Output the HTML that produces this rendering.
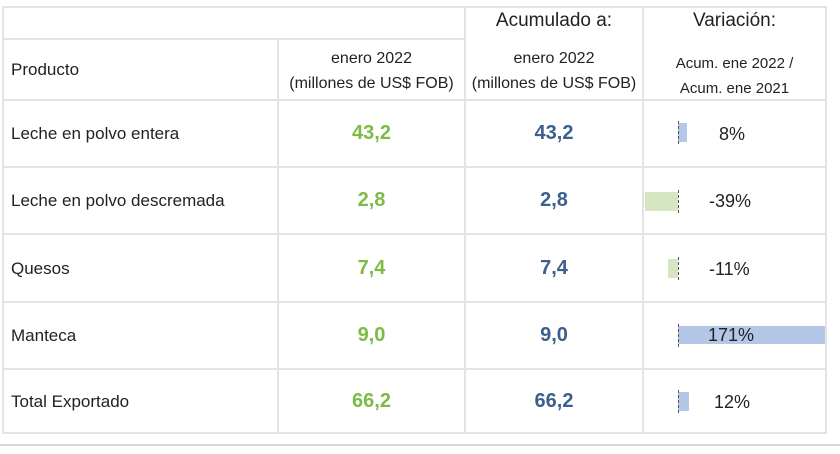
<!DOCTYPE html>
<html><head><meta charset="utf-8"><style>
body{margin:0;width:840px;height:454px;background:#fff;font-family:"Liberation Sans",sans-serif;color:#222;position:relative;overflow:hidden}
.h{position:absolute;height:2px;background:#e3e3e3}
.v{position:absolute;width:2px;background:#e3e3e3}
.t{position:absolute;white-space:nowrap}
.c{text-align:center}
.g{color:#7dbb45;font-weight:bold;font-size:20px}
.b{color:#3c5f8e;font-weight:bold;font-size:20px}
.bar{position:absolute}
.ax{position:absolute;width:0;border-left:1px dashed #555}
</style></head><body>
<div class="h" style="left:2px;width:825px;top:6px"></div>
<div class="h" style="left:2px;width:463px;top:38px"></div>
<div class="h" style="left:2px;width:825px;top:99px"></div>
<div class="h" style="left:2px;width:825px;top:166px"></div>
<div class="h" style="left:2px;width:825px;top:233px"></div>
<div class="h" style="left:2px;width:825px;top:301px"></div>
<div class="h" style="left:2px;width:825px;top:368px"></div>
<div class="h" style="left:2px;width:825px;top:432px"></div>
<div class="h" style="left:0;width:840px;top:444px;background:#d8d8d8"></div>
<div class="v" style="left:2px;top:6px;height:428px"></div>
<div class="v" style="left:277px;top:38px;height:396px"></div>
<div class="v" style="left:464px;top:6px;height:428px"></div>
<div class="v" style="left:642px;top:6px;height:428px"></div>
<div class="v" style="left:825px;top:6px;height:428px"></div>

<div class="t c" style="left:465px;width:178px;top:10px;font-size:19px">Acumulado a:</div>
<div class="t c" style="left:643px;width:183px;top:10px;font-size:19px">Variación:</div>
<div class="t" style="left:11px;top:60px;font-size:17px">Producto</div>
<div class="t c" style="left:278px;width:187px;top:46px;font-size:16px;line-height:25px">enero 2022<br>(millones de US$ FOB)</div>
<div class="t c" style="left:465px;width:178px;top:46px;font-size:16px;line-height:25px">enero 2022<br>(millones de US$ FOB)</div>
<div class="t c" style="left:643px;width:183px;top:51px;font-size:15px;line-height:25px">Acum. ene 2022 /<br>Acum. ene 2021</div>

<div class="t" style="left:11px;top:124px;font-size:17px">Leche en polvo entera</div>
<div class="t" style="left:11px;top:191px;font-size:17px">Leche en polvo descremada</div>
<div class="t" style="left:11px;top:259px;font-size:17px">Quesos</div>
<div class="t" style="left:11px;top:326px;font-size:17px">Manteca</div>
<div class="t" style="left:11px;top:392px;font-size:17px">Total Exportado</div>

<div class="t c g" style="left:278px;width:187px;top:122px">43,2</div>
<div class="t c g" style="left:278px;width:187px;top:189px">2,8</div>
<div class="t c g" style="left:278px;width:187px;top:257px">7,4</div>
<div class="t c g" style="left:278px;width:187px;top:324px">9,0</div>
<div class="t c g" style="left:278px;width:187px;top:390px">66,2</div>
<div class="t c b" style="left:465px;width:178px;top:122px">43,2</div>
<div class="t c b" style="left:465px;width:178px;top:189px">2,8</div>
<div class="t c b" style="left:465px;width:178px;top:257px">7,4</div>
<div class="t c b" style="left:465px;width:178px;top:324px">9,0</div>
<div class="t c b" style="left:465px;width:178px;top:390px">66,2</div>

<div class="bar" style="left:678px;top:123px;width:9px;height:19px;background:#b4c7e7"></div>
<div class="bar" style="left:645px;top:192px;width:33px;height:19px;background:#d6e6c3"></div>
<div class="bar" style="left:668px;top:259px;width:10px;height:19px;background:#d6e6c3"></div>
<div class="bar" style="left:678px;top:326px;width:147px;height:18px;background:#b4c7e7"></div>
<div class="bar" style="left:678px;top:392px;width:11px;height:19px;background:#b4c7e7"></div>
<div class="ax" style="left:678px;top:121px;height:23px"></div>
<div class="ax" style="left:678px;top:190px;height:23px"></div>
<div class="ax" style="left:678px;top:257px;height:23px"></div>
<div class="ax" style="left:678px;top:324px;height:23px"></div>
<div class="ax" style="left:678px;top:390px;height:23px"></div>

<div class="t" style="left:719px;top:124px;font-size:18px">8%</div>
<div class="t" style="left:709px;top:191px;font-size:18px">-39%</div>
<div class="t" style="left:709px;top:259px;font-size:18px">-11%</div>
<div class="t" style="left:708px;top:325px;font-size:18px">171%</div>
<div class="t" style="left:714px;top:392px;font-size:18px">12%</div>
</body></html>
